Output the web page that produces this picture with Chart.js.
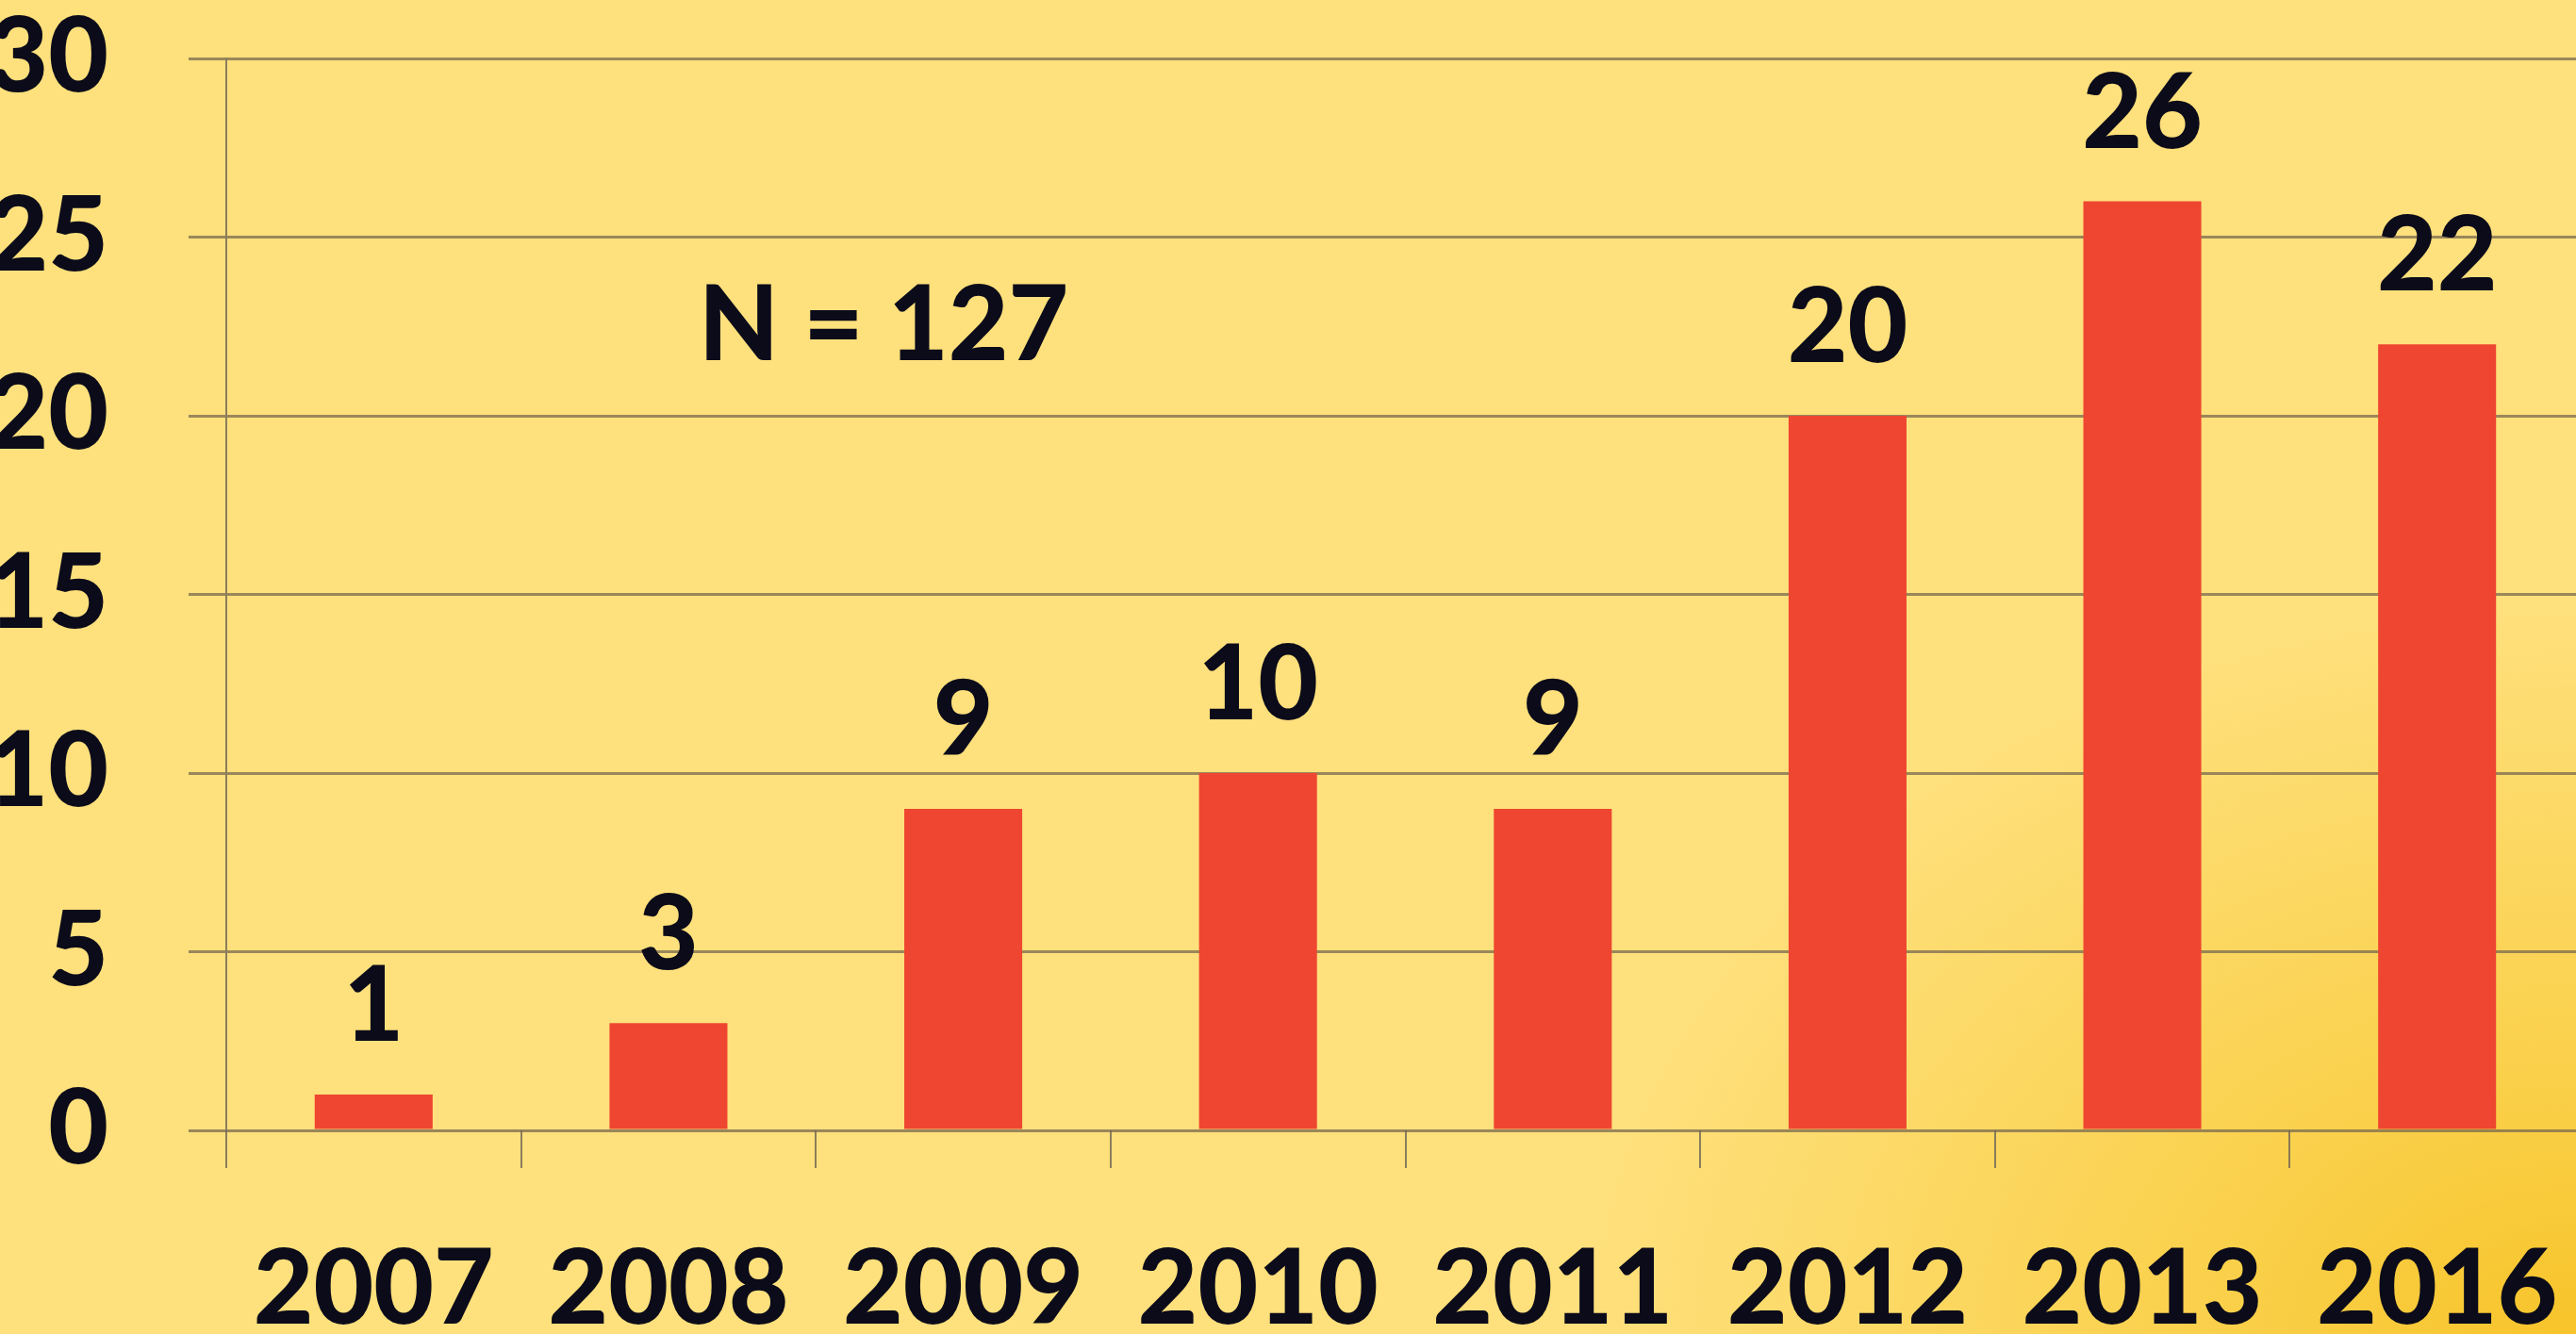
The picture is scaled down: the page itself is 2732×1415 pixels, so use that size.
<!DOCTYPE html>
<html>
<head>
<meta charset="utf-8">
<script src="https://cdn.jsdelivr.net/npm/chart.js@4/dist/chart.umd.min.js"></script>
<style>
	html, body {
		margin: 0;
		padding: 0;
		width: 2732px;
		height: 1415px;
		overflow: hidden;
	}
	body {
		background:
			radial-gradient(ellipse 1500px 1100px at 100% 100%, #f7c42a 0%, #fad04a 25%, rgba(254, 222, 120, 0) 70%),
			#fee07c;
	}
	canvas { display: block; }
</style>
</head>
<body>
<canvas id="chart" width="2745" height="1415"></canvas>
<script>
'use strict';

var years = ['2007', '2008', '2009', '2010', '2011', '2012', '2013', '2016'];
var counts = [1, 3, 9, 10, 9, 20, 26, 22];
var yTicks = [0, 5, 10, 15, 20, 25, 30];
var noteText = 'N = 127';

var textColor = '#0b0b1a';
var fontFamily = 'Lato, "Open Sans", sans-serif';
var fontSize = 110;
var fontWeight = '900';

// value labels above the bars and the N note
var barLabels = {
	id: 'barLabels',
	afterDatasetsDraw: function (chart) {
		var ctx = chart.ctx;
		var meta = chart.getDatasetMeta(0);
		ctx.save();
		ctx.fillStyle = textColor;
		ctx.font = fontWeight + ' ' + fontSize + 'px ' + fontFamily;
		ctx.textAlign = 'center';
		ctx.textBaseline = 'alphabetic';
		for (var i = 0; i < meta.data.length; i++) {
			var bar = meta.data[i];
			ctx.fillText(String(counts[i]), bar.x, bar.y - 57);
		}
		var x = chart.scales.x.getPixelForValue(1.73);
		var y = chart.scales.y.getPixelForValue(21.56);
		ctx.fillText(noteText, x, y);
		ctx.restore();
	}
};

var config = {
	type: 'bar',
	data: {
		labels: years,
		datasets: [
			{
				data: counts,
				backgroundColor: '#ee4630',
				borderWidth: 0,
				categoryPercentage: 1,
				barPercentage: 0.4
			}
		]
	},
	options: {
		responsive: false,
		animation: false,
		devicePixelRatio: 1,
		layout: {
			padding: { top: 62, right: 4, left: 0, bottom: 0 }
		},
		plugins: {
			legend: { display: false },
			tooltip: { enabled: false }
		},
		scales: {
			x: {
				grid: {
					drawOnChartArea: false,
					drawTicks: true,
					tickLength: 40,
					color: 'rgba(110, 100, 85, 0.8)',
					lineWidth: 2
				},
				border: { display: false },
				ticks: {
					color: textColor,
					font: { family: fontFamily, size: fontSize, weight: fontWeight, lineHeight: 1.2 },
					padding: 64,
					maxRotation: 0,
					autoSkip: false
				},
				afterFit: function (scale) {
					scale.height = 216;
					scale.paddingLeft = 0;
					scale.paddingRight = 0;
				}
			},
			y: {
				min: 0,
				max: 30,
				afterBuildTicks: function (scale) {
					scale.ticks = yTicks.map(function (v) { return { value: v }; });
				},
				grid: {
					color: 'rgba(120, 105, 80, 0.75)',
					lineWidth: 3,
					tickLength: 40
				},
				border: {
					display: true,
					color: 'rgba(110, 100, 85, 0.8)',
					width: 2
				},
				ticks: {
					color: textColor,
					font: { family: fontFamily, size: fontSize, weight: fontWeight, lineHeight: 1 },
					padding: 85
				},
				afterFit: function (scale) {
					scale.width = 240;
					scale.paddingTop = 0;
					scale.paddingBottom = 0;
				}
			}
		}
	},
	plugins: [barLabels]
};

new Chart(document.getElementById('chart'), config);
</script>
</body>
</html>
